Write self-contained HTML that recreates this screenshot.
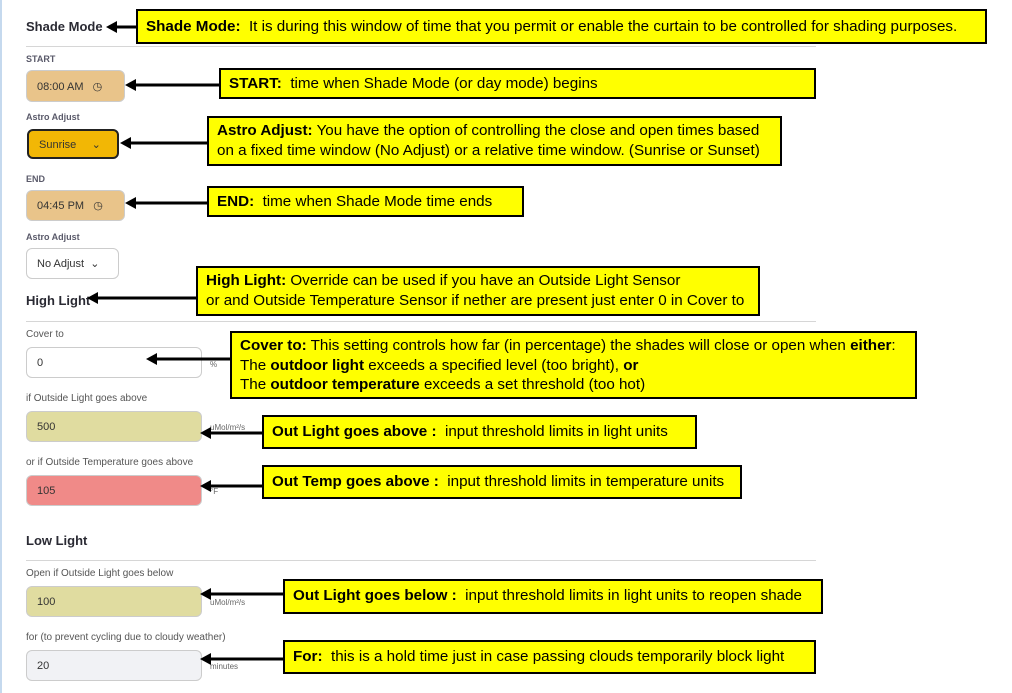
<!DOCTYPE html>
<html><head><style>
body{margin:0;width:1012px;height:693px;background:#fff;position:relative;overflow:hidden;font-family:"Liberation Sans",sans-serif;}
.a{position:absolute;}
.h{font-weight:bold;font-size:13px;color:#2a2a33;}
.l{font-size:10px;color:#555;}
.ls{font-size:9px;font-weight:bold;color:#5a5a6a;}
.f{position:absolute;border:1px solid #ccc;border-radius:6px;box-sizing:border-box;font-size:11px;color:#333;padding-left:10px;display:flex;align-items:center;}
.hr{position:absolute;left:26px;width:790px;height:1px;background:#d6d6d6;}
.u{position:absolute;font-size:8px;color:#666;}
.b{position:absolute;background:#ffff00;border:2px solid #000;box-sizing:border-box;font-size:15.2px;color:#000;padding:4px 8px;line-height:20px;white-space:nowrap;overflow:hidden;}
</style></head><body>
<div class="a" style="left:0;top:0;width:2px;height:693px;background:#c5d9ee"></div>
<div class="a h" style="left:26px;top:19px">Shade Mode</div>
<div class="hr" style="top:46px"></div>
<div class="a ls" style="left:26px;top:54px">START</div>
<div class="f" style="left:26px;top:70px;width:99px;height:32px;background:#e9c48a;">08:00 AM&nbsp;&nbsp;&nbsp;◷</div>
<div class="a ls" style="left:26px;top:112px">Astro Adjust</div>
<div class="f" style="left:27px;top:129px;width:92px;height:30px;background:#f2b705;border:2px solid #222;">Sunrise&nbsp;&nbsp;&nbsp;&nbsp;&nbsp;⌄</div>
<div class="a ls" style="left:26px;top:174px">END</div>
<div class="f" style="left:26px;top:190px;width:99px;height:31px;background:#e9c48a;">04:45 PM&nbsp;&nbsp;&nbsp;◷</div>
<div class="a ls" style="left:26px;top:232px">Astro Adjust</div>
<div class="f" style="left:26px;top:248px;width:93px;height:31px;background:#fff;">No Adjust&nbsp;&nbsp;⌄</div>
<div class="a h" style="left:26px;top:293px">High Light</div>
<div class="hr" style="top:321px"></div>
<div class="a l" style="left:26px;top:329px">Cover to</div>
<div class="f" style="left:26px;top:347px;width:176px;height:31px;background:#fff;">0</div>
<div class="u" style="left:210px;top:360px">%</div>
<div class="a l" style="left:26px;top:393px">if Outside Light goes above</div>
<div class="f" style="left:26px;top:411px;width:176px;height:31px;background:#e0dca0;">500</div>
<div class="u" style="left:210px;top:423px">uMol/m²/s</div>
<div class="a l" style="left:26px;top:457px">or if Outside Temperature goes above</div>
<div class="f" style="left:26px;top:475px;width:176px;height:31px;background:#f08a88;">105</div>
<div class="u" style="left:210px;top:487px">°F</div>
<div class="a h" style="left:26px;top:533px">Low Light</div>
<div class="hr" style="top:560px"></div>
<div class="a l" style="left:26px;top:568px">Open if Outside Light goes below</div>
<div class="f" style="left:26px;top:586px;width:176px;height:31px;background:#e0dca0;">100</div>
<div class="u" style="left:210px;top:598px">uMol/m²/s</div>
<div class="a l" style="left:26px;top:632px">for (to prevent cycling due to cloudy weather)</div>
<div class="f" style="left:26px;top:650px;width:176px;height:31px;background:#f1f2f5;">20</div>
<div class="u" style="left:210px;top:662px">minutes</div>

<svg class="a" style="left:0;top:0" width="1012" height="693">
<g stroke="#000" stroke-width="3">
<line x1="136" y1="27" x2="115" y2="27"/>
<line x1="219" y1="85" x2="134" y2="85"/>
<line x1="207" y1="143" x2="129" y2="143"/>
<line x1="207" y1="203" x2="134" y2="203"/>
<line x1="196" y1="298" x2="96" y2="298"/>
<line x1="230" y1="359" x2="155" y2="359"/>
<line x1="262" y1="433" x2="209" y2="433"/>
<line x1="262" y1="486" x2="209" y2="486"/>
<line x1="283" y1="594" x2="209" y2="594"/>
<line x1="283" y1="659" x2="209" y2="659"/>
</g>
<g fill="#000">
<path d="M106,27 l11,-6 v12 z"/>
<path d="M125,85 l11,-6 v12 z"/>
<path d="M120,143 l11,-6 v12 z"/>
<path d="M125,203 l11,-6 v12 z"/>
<path d="M87,298 l11,-6 v12 z"/>
<path d="M146,359 l11,-6 v12 z"/>
<path d="M200,433 l11,-6 v12 z"/>
<path d="M200,486 l11,-6 v12 z"/>
<path d="M200,594 l11,-6 v12 z"/>
<path d="M200,659 l11,-6 v12 z"/>
</g></svg>

<div class="b" style="left:136px;top:9px;width:851px;height:35px;padding-top:6px"><b>Shade Mode:</b>&nbsp; It is during this window of time that you permit or enable the curtain to be controlled for shading purposes.</div>
<div class="b" style="left:219px;top:68px;width:597px;height:31px;padding-top:4px"><b>START:</b>&nbsp; time when Shade Mode (or day mode) begins</div>
<div class="b" style="left:207px;top:116px;width:575px;height:50px;padding-top:3px"><b>Astro Adjust:</b> You have the option of controlling the close and open times based<br>on a fixed time window (No Adjust) or a relative time window. (Sunrise or Sunset)</div>
<div class="b" style="left:207px;top:186px;width:317px;height:31px;padding-top:4px"><b>END:</b>&nbsp; time when Shade Mode time ends</div>
<div class="b" style="left:196px;top:266px;width:564px;height:50px;padding-top:3px"><b>High Light:</b> Override can be used if you have an Outside Light Sensor<br>or and Outside Temperature Sensor if nether are present just enter 0 in Cover to</div>
<div class="b" style="left:230px;top:331px;width:687px;height:68px;padding-top:3px;line-height:19.5px"><b>Cover to:</b> This setting controls how far (in percentage) the shades will close or open when <b>either</b>:<br>The <b>outdoor light</b> exceeds a specified level (too bright), <b>or</b><br>The <b>outdoor temperature</b> exceeds a set threshold (too hot)</div>
<div class="b" style="left:262px;top:415px;width:435px;height:34px;padding-top:5px"><b>Out Light goes above :</b>&nbsp; input threshold limits in light units</div>
<div class="b" style="left:262px;top:465px;width:480px;height:34px;padding-top:5px"><b>Out Temp goes above :</b>&nbsp; input threshold limits in temperature units</div>
<div class="b" style="left:283px;top:579px;width:540px;height:35px;padding-top:5px"><b>Out Light goes below :</b>&nbsp; input threshold limits in light units to reopen shade</div>
<div class="b" style="left:283px;top:640px;width:533px;height:34px;padding-top:5px"><b>For:</b>&nbsp; this is a hold time just in case passing clouds temporarily block light</div>
</body></html>
